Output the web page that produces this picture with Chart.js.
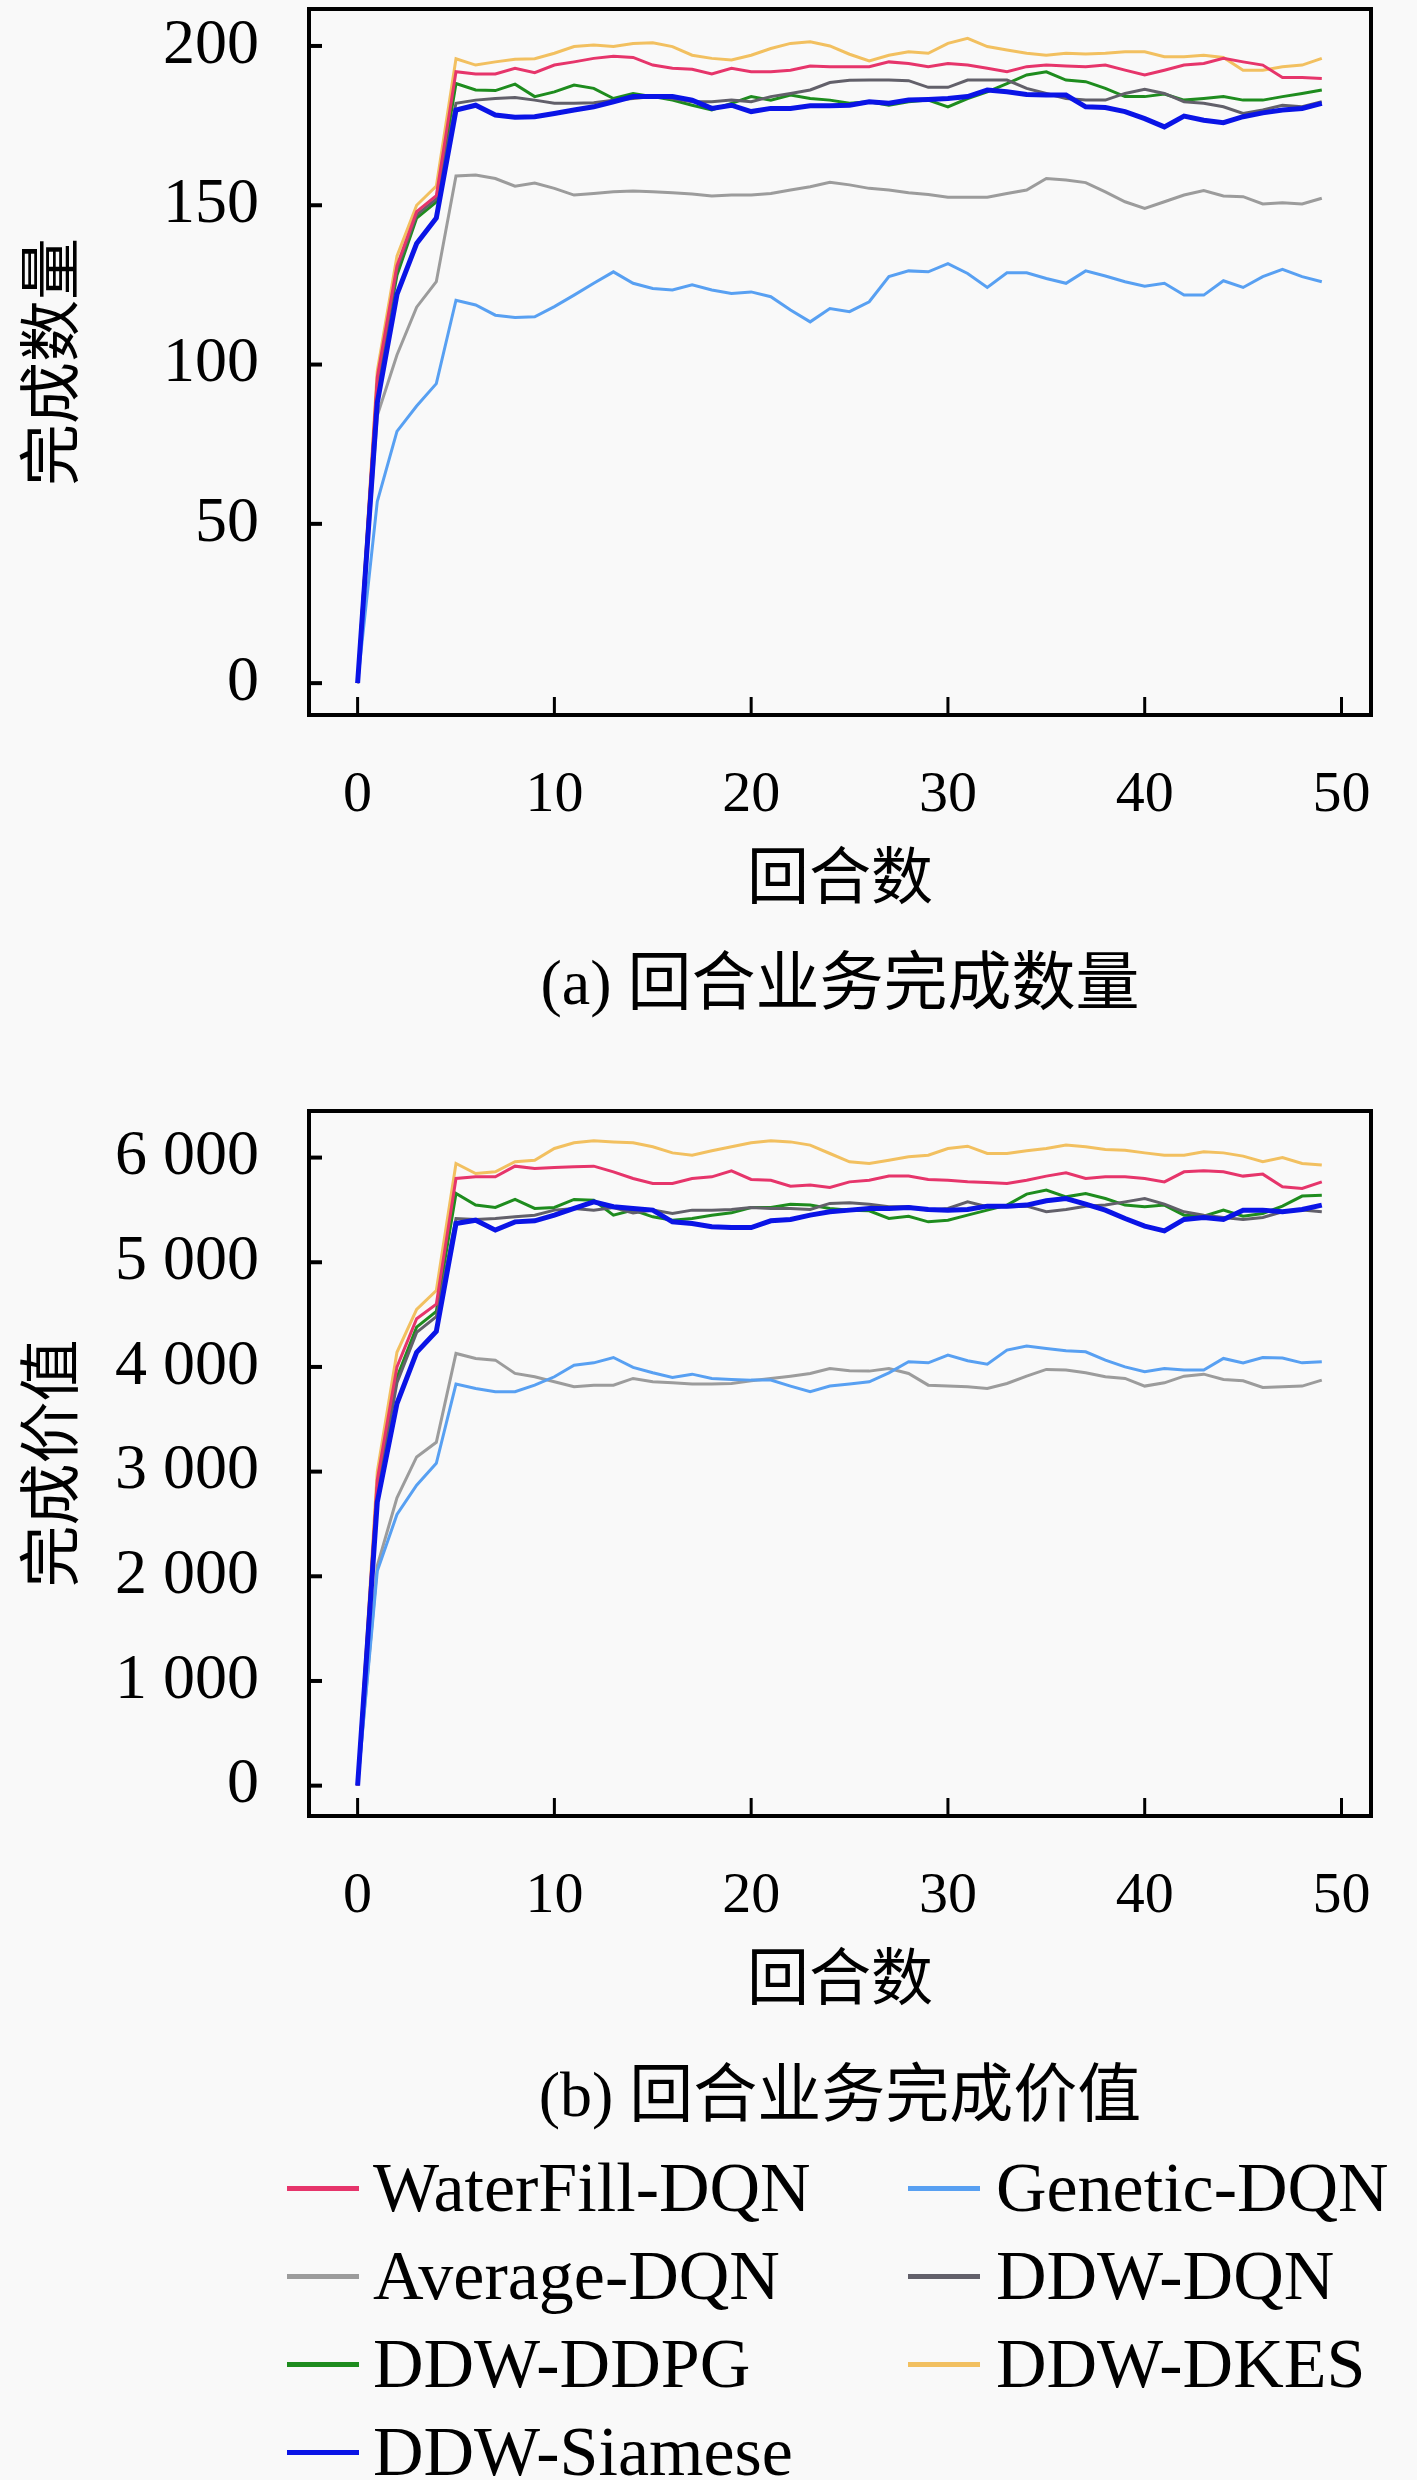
<!DOCTYPE html>
<html lang="zh">
<head>
<meta charset="utf-8">
<title>回合业务完成数量与完成价值</title>
<script src="https://cdn.jsdelivr.net/npm/chart.js@4.4.1/dist/chart.umd.min.js"></script>
<style>
  html, body { margin: 0; padding: 0; background: #f9f9f9; }
  body { position: relative; width: 1417px; height: 2480px; overflow: hidden; }
  canvas { position: absolute; left: 0; }
  .caption {
    position: absolute; left: 309px; width: 1062px; text-align: center;
    font: 64px/1 'Liberation Serif', 'Noto Sans CJK SC', serif; color: #000;
  }
  .leg-line { position: absolute; width: 72px; height: 5px; }
  .leg-text {
    position: absolute; white-space: nowrap;
    font: 70px/1 'Liberation Serif', serif; color: #000;
  }
</style>
</head>
<body>
<canvas id="countChart" width="1417" height="940" style="top:0px"></canvas>
<div class="caption" style="top:951px">(a) 回合业务完成数量</div>
<canvas id="valueChart" width="1417" height="939" style="top:1102px"></canvas>
<div class="caption" style="top:2063px">(b) 回合业务完成价值</div>
<div id="legend"></div>

<script>
// x categories: rounds 0..49
const rounds = [0, 1, 2, 3, 4, 5, 6, 7, 8, 9, 10, 11, 12, 13, 14, 15, 16, 17, 18, 19,
  20, 21, 22, 23, 24, 25, 26, 27, 28, 29, 30, 31, 32, 33, 34, 35, 36, 37, 38, 39,
  40, 41, 42, 43, 44, 45, 46, 47, 48, 49];

const seriesNames = ['WaterFill-DQN', 'Genetic-DQN', 'Average-DQN', 'DDW-DQN',
  'DDW-DDPG', 'DDW-DKES', 'DDW-Siamese'];
const seriesColors = ['#e6356b', '#58a0f2', '#9c9c9c', '#62606a',
  '#1e8c1e', '#f2c060', '#0a14e6'];

// (a) completed count per round
const countWaterFill = [0, 96, 131, 148, 153, 191.9, 191.2, 191.2, 193, 191.6, 194, 195, 196.1, 196.8, 196.4,
  194, 193, 192.7, 191.2, 193, 191.9, 191.9, 192.4, 193.7, 193.5, 193.5, 193.5, 195, 194.5, 193.5,
  194.5, 194, 193, 191.9, 193.5, 194, 193.7, 193.5, 194, 192.4, 190.9, 192.4, 194, 194.5, 196.1,
  195, 194, 190.1, 190.1, 189.8];
const countGenetic = [0, 57, 79, 87, 94, 120.2, 118.7, 115.5, 114.8, 115, 118.2, 121.8, 125.5, 129.1, 125.5,
  123.9, 123.4, 125, 123.4, 122.3, 122.8, 121.3, 117.1, 113.4, 117.6, 116.6, 119.7, 127.6, 129.4, 129.1,
  131.7, 128.6, 124.2, 128.8, 128.8, 127, 125.5, 129.4, 127.8, 126, 124.6, 125.5, 121.8, 121.8, 126.3,
  124.2, 127.6, 129.9, 127.6, 126];
const countAverage = [0, 84, 103, 118, 126, 159.2, 159.5, 158.4, 156, 157, 155.3, 153.2, 153.7, 154.2, 154.5,
  154.2, 153.9, 153.5, 152.9, 153.2, 153.2, 153.7, 154.8, 155.8, 157.2, 156.4, 155.3, 154.8, 153.9, 153.4,
  152.5, 152.5, 152.5, 153.7, 154.8, 158.4, 157.9, 157.1, 154.2, 151.1, 149, 151.1, 153.2, 154.6, 152.9,
  152.7, 150.4, 150.8, 150.4, 152.2];
const countDdwDqn = [0, 93, 130, 147, 152, 182, 183, 183.5, 183.8, 183, 182, 182, 182.2, 183, 183.5,
  184.1, 183.5, 182.5, 182.5, 183, 182.5, 184.1, 185.1, 186.2, 188.5, 189.2, 189.3, 189.3, 189.1, 187,
  187, 189.3, 189.3, 189.3, 186.7, 185.1, 183.5, 183, 183, 185.1, 186.4, 185.1, 182.5, 182, 180.9,
  178.8, 179.9, 181.4, 180.9, 182.5];
const countDdpg = [0, 94, 128, 146, 151, 188.2, 186.2, 186, 188, 184.1, 185.6, 187.7, 186.7, 183.5, 185.1,
  184.1, 183, 181.4, 179.9, 182, 184.1, 183, 184.6, 183.5, 183, 182, 182.5, 181.4, 182.5, 183,
  180.9, 183.5, 185.6, 188.2, 190.9, 191.9, 189.3, 188.8, 186.7, 184.1, 184.1, 184.9, 183, 183.5, 184.1,
  183, 183, 184.1, 185.1, 186.2];
const countDkes = [0, 98, 134, 150, 156, 196, 194, 195, 195.8, 196, 197.7, 199.8, 200.3, 199.8, 200.8,
  201, 199.8, 197.1, 196.1, 195.6, 197.1, 199.2, 200.8, 201.3, 200, 197.4, 195.3, 197.1, 198.2, 197.7,
  200.8, 202.4, 199.8, 198.7, 197.7, 197.1, 197.7, 197.5, 197.7, 198.2, 198.2, 196.6, 196.6, 197.1, 196.4,
  192.4, 192.4, 193.5, 194, 196.1];
const countSiamese = [0, 88, 122, 138, 146, 179.9, 181.4, 178.3, 177.6, 177.8, 178.8, 179.9, 180.9, 182.5, 184.1,
  184.1, 184.1, 183, 180.4, 181.4, 179.4, 180.4, 180.4, 181.2, 181.2, 181.4, 182.5, 182, 183, 183.2,
  183.5, 184.1, 186.2, 185.6, 184.8, 184.6, 184.6, 180.9, 180.7, 179.4, 177.2, 174.6, 178, 176.7, 175.9,
  177.8, 179, 179.9, 180.4, 182];

// (b) completed value per round
const valueWaterFill = [0, 2920, 4000, 4460, 4600, 5800, 5816, 5816, 5918, 5896, 5905, 5912, 5918, 5864, 5800,
  5752, 5752, 5800, 5816, 5874, 5791, 5784, 5727, 5737, 5714, 5768, 5784, 5823, 5823, 5791,
  5784, 5768, 5762, 5752, 5784, 5823, 5854, 5800, 5816, 5816, 5800, 5768, 5864, 5874, 5864,
  5823, 5842, 5721, 5705, 5768];
const valueGenetic = [0, 2050, 2590, 2870, 3080, 3836, 3794, 3763, 3763, 3826, 3906, 4017, 4039, 4090, 3995,
  3944, 3900, 3931, 3890, 3880, 3874, 3874, 3817, 3763, 3817, 3836, 3858, 3944, 4049, 4039,
  4113, 4059, 4027, 4161, 4199, 4177, 4154, 4145, 4065, 4001, 3954, 3985, 3970, 3970, 4081,
  4039, 4090, 4085, 4039, 4049];
const valueAverage = [0, 2100, 2750, 3140, 3280, 4129, 4081, 4065, 3938, 3906, 3858, 3810, 3826, 3826, 3890,
  3858, 3850, 3836, 3836, 3842, 3868, 3890, 3912, 3938, 3985, 3963, 3960, 3985, 3938, 3826,
  3817, 3810, 3794, 3842, 3912, 3976, 3970, 3944, 3906, 3890, 3817, 3848, 3912, 3931, 3880,
  3868, 3804, 3810, 3817, 3874];
const valueDdwDqn = [0, 2800, 3850, 4330, 4480, 5418, 5409, 5418, 5434, 5450, 5498, 5514, 5498, 5523, 5472,
  5498, 5466, 5498, 5498, 5504, 5523, 5514, 5514, 5504, 5562, 5568, 5555, 5530, 5530, 5498,
  5514, 5577, 5530, 5530, 5536, 5482, 5504, 5536, 5546, 5577, 5609, 5555, 5482, 5450, 5428,
  5409, 5428, 5482, 5498, 5482];
const valueDdpg = [0, 2850, 3900, 4380, 4530, 5657, 5546, 5523, 5600, 5514, 5523, 5600, 5593, 5450, 5498,
  5434, 5402, 5418, 5450, 5472, 5523, 5523, 5555, 5546, 5514, 5498, 5491, 5418, 5440, 5386,
  5402, 5450, 5498, 5546, 5651, 5689, 5625, 5657, 5609, 5546, 5530, 5546, 5450, 5440, 5498,
  5440, 5466, 5536, 5632, 5641];
const valueDkes = [0, 3000, 4140, 4550, 4730, 5944, 5848, 5864, 5960, 5975, 6087, 6141, 6160, 6150, 6141,
  6103, 6045, 6023, 6065, 6103, 6141, 6160, 6150, 6119, 6039, 5960, 5944, 5975, 6007, 6023,
  6087, 6109, 6039, 6039, 6065, 6087, 6119, 6103, 6077, 6071, 6045, 6023, 6023, 6055, 6045,
  6014, 5960, 6001, 5944, 5928];
const valueSiamese = [0, 2710, 3650, 4140, 4340, 5370, 5402, 5307, 5386, 5396, 5450, 5514, 5577, 5530, 5514,
  5498, 5386, 5370, 5339, 5332, 5332, 5396, 5409, 5450, 5482, 5498, 5514, 5514, 5523, 5504,
  5498, 5504, 5536, 5536, 5546, 5587, 5609, 5555, 5498, 5418, 5345, 5300, 5409, 5428, 5409,
  5498, 5498, 5482, 5504, 5546];

// axis ticks
const roundTicks = [0, 10, 20, 30, 40, 50];
const countTicks = [0, 50, 100, 150, 200];
const countTickLabels = ['0', '50', '100', '150', '200'];
const valueTicks = [0, 1000, 2000, 3000, 4000, 5000, 6000];
const valueTickLabels = ['0', '1 000', '2 000', '3 000', '4 000', '5 000', '6 000'];

const latin = "'Liberation Serif', serif";
const cjk = "'Liberation Serif', 'Noto Sans CJK SC', sans-serif";

// box around the plot + inward tick marks
const framePlugin = {
  id: 'frame',
  afterDraw(chart) {
    const { ctx, chartArea: a, scales: { x, y } } = chart;
    ctx.save();
    ctx.strokeStyle = '#000';
    ctx.lineCap = 'butt';
    ctx.lineWidth = 3;
    x.ticks.forEach(t => {
      const px = x.getPixelForValue(t.value);
      ctx.beginPath(); ctx.moveTo(px, a.bottom); ctx.lineTo(px, a.bottom - 18); ctx.stroke();
    });
    ctx.lineWidth = 4;
    y.ticks.forEach(t => {
      const py = y.getPixelForValue(t.value);
      ctx.beginPath(); ctx.moveTo(a.left, py); ctx.lineTo(a.left + 13, py); ctx.stroke();
    });
    ctx.strokeRect(a.left, a.top, a.right - a.left, a.bottom - a.top);
    ctx.restore();
  }
};

function makeChart(id, seriesList, yMin, yMax, yTicks, yLabels, yTitle) {
  const datasets = seriesList.map((vals, i) => ({
    label: seriesNames[i],
    data: vals.map((v, k) => ({ x: rounds[k], y: v })),
    borderColor: seriesColors[i],
    borderWidth: i === 6 ? 5 : 3,
    pointRadius: 0,
    tension: 0,
    fill: false,
    order: i === 6 ? 0 : 1
  }));

  return new Chart(document.getElementById(id), {
    type: 'line',
    data: { datasets },
    options: {
      responsive: false,
      animation: false,
      layout: { padding: { left: 0, top: 9, right: 46, bottom: 0 } },
      plugins: { legend: { display: false }, tooltip: { enabled: false } },
      scales: {
        x: {
          type: 'linear',
          min: -2.47,
          max: 51.5,
          grid: { display: false },
          border: { display: false },
          afterBuildTicks: s => { s.ticks = roundTicks.map(v => ({ value: v })); },
          afterFit: s => { s.height = 225; s.paddingLeft = 0; s.paddingRight = 0; },
          ticks: {
            autoSkip: false, maxRotation: 0, padding: 38, color: '#000',
            font: { family: latin, size: 58 }
          },
          title: {
            display: true, text: '回合数', color: '#000',
            padding: { top: 0, bottom: 20 },
            font: { family: cjk, size: 62 }
          }
        },
        y: {
          type: 'linear',
          min: yMin,
          max: yMax,
          grid: { display: false },
          border: { display: false },
          afterBuildTicks: s => { s.ticks = yTicks.map(v => ({ value: v })); },
          afterFit: s => { s.width = 309; s.paddingTop = 0; s.paddingBottom = 0; },
          ticks: {
            padding: 42, color: '#000',
            font: { family: latin, size: 64 },
            callback: (v, idx) => yLabels[idx]
          },
          title: {
            display: true, text: yTitle, color: '#000',
            padding: { top: 20, bottom: 0 },
            font: { family: cjk, size: 62 }
          }
        }
      }
    },
    plugins: [framePlugin]
  });
}

makeChart('countChart',
  [countWaterFill, countGenetic, countAverage, countDdwDqn, countDdpg, countDkes, countSiamese],
  -10, 211.6, countTicks, countTickLabels, '完成数量');

makeChart('valueChart',
  [valueWaterFill, valueGenetic, valueAverage, valueDdwDqn, valueDdpg, valueDkes, valueSiamese],
  -290, 6445, valueTicks, valueTickLabels, '完成价值');

// shared legend, two columns
const legend = document.getElementById('legend');
const colLineX = [287, 908];
const colTextX = [373, 996];
const rowY = [2188, 2276, 2364, 2452];
seriesNames.forEach((name, i) => {
  const col = i % 2, row = Math.floor(i / 2);
  const line = document.createElement('div');
  line.className = 'leg-line';
  line.style.left = colLineX[col] + 'px';
  line.style.top = (rowY[row] - 2) + 'px';
  line.style.background = seriesColors[i];
  legend.appendChild(line);
  const txt = document.createElement('div');
  txt.className = 'leg-text';
  txt.style.left = colTextX[col] + 'px';
  txt.style.top = (rowY[row] - 35) + 'px';
  txt.textContent = name;
  legend.appendChild(txt);
});
</script>
</body>
</html>
